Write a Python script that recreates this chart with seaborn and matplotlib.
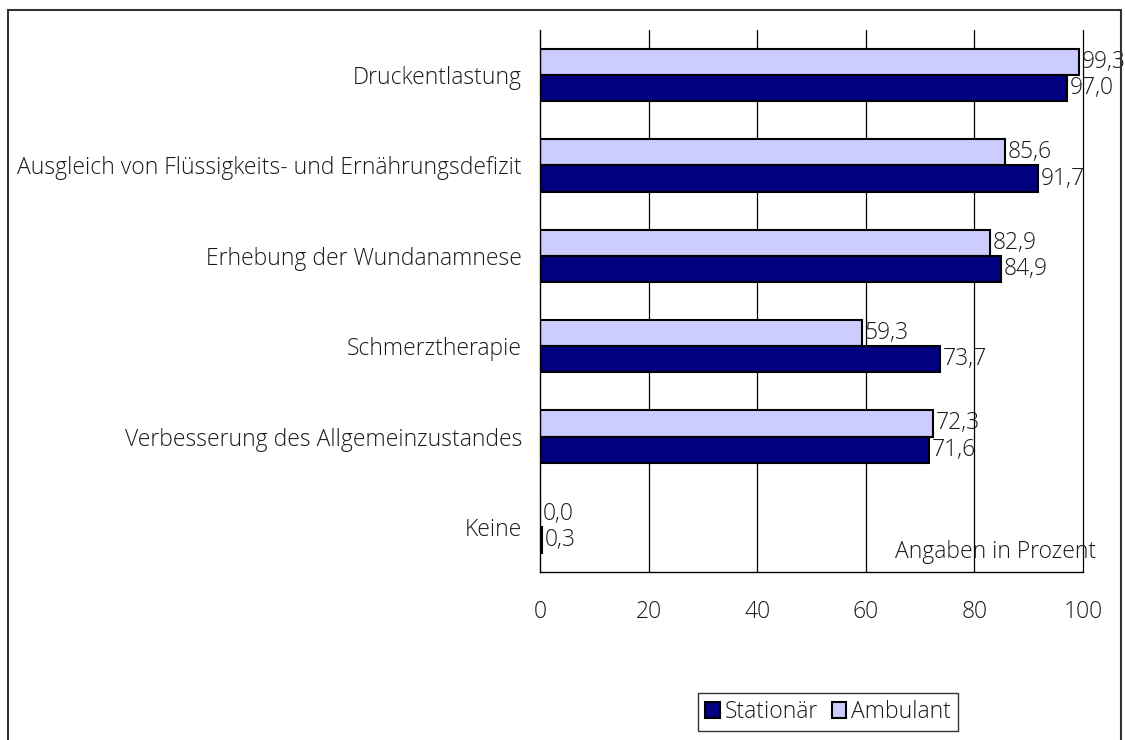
import pandas as pd
import seaborn as sns
import matplotlib.pyplot as plt
from matplotlib.patches import Patch, Rectangle

categories = [
    "Druckentlastung",
    "Ausgleich von Flüssigkeits- und Ernährungsdefizit",
    "Erhebung der Wundanamnese",
    "Schmerztherapie",
    "Verbesserung des Allgemeinzustandes",
    "Keine",
]
stationaer = [97.0, 91.7, 84.9, 73.7, 71.6, 0.3]
ambulant = [99.3, 85.6, 82.9, 59.3, 72.3, 0.0]
x_ticks = [0, 20, 40, 60, 80, 100]

colors = {"Stationär": "#000080", "Ambulant": "#CCCCFF"}
fs = 16.5
txt_col = "#1a1a1a"

sns.set_style("white")
plt.rcParams["font.family"] = ["Open Sans", "DejaVu Sans"]
plt.rcParams["font.weight"] = "light"

df = pd.DataFrame({
    "Kategorie": categories * 2,
    "Wert": ambulant + stationaer,
    "Gruppe": ["Ambulant"] * len(categories) + ["Stationär"] * len(categories),
})

fig = plt.figure(figsize=(11.25, 7.4), dpi=100)
ax = fig.add_axes([0.48, 0.227, 0.4827, 0.7325])

sns.barplot(data=df, y="Kategorie", x="Wert", hue="Gruppe",
            hue_order=["Ambulant", "Stationär"], palette=colors, saturation=1,
            orient="h", width=0.58, edgecolor="black", linewidth=1.5,
            legend=False, ax=ax)

for cont in ax.containers:
    ax.bar_label(cont, labels=[f"{v:.1f}".replace(".", ",") for v in cont.datavalues],
                 padding=2, fontsize=fs, color=txt_col)

ax.set_xlim(0, 100)
ax.set_ylim(len(categories) - 0.5, -0.5)
ax.set_xticks(x_ticks)
ax.set_xticklabels([str(t) for t in x_ticks], fontsize=fs, color=txt_col)
ax.tick_params(axis="x", length=6, width=1, color="black", pad=14, direction="out")
ax.tick_params(axis="y", which="major", length=0, pad=13, labelsize=fs,
               labelcolor=txt_col)
ax.set_yticks([i - 0.5 for i in range(len(categories) + 1)], minor=True)
ax.tick_params(axis="y", which="minor", length=6, width=1, color="black", direction="out")
ax.set_xlabel("")
ax.set_ylabel("")

for t in x_ticks[1:]:
    ax.axvline(t, color="black", linewidth=0.9, zorder=0, clip_on=False)

for side in ["top", "right"]:
    ax.spines[side].set_visible(False)
for side in ["left", "bottom"]:
    ax.spines[side].set_color("black")
    ax.spines[side].set_linewidth(1)

ax.text(102.5, 5.28, "Angaben in Prozent", ha="right", va="center", fontsize=fs,
        color=txt_col)

handles = [Patch(facecolor=colors["Stationär"], edgecolor="black", linewidth=1.5),
           Patch(facecolor=colors["Ambulant"], edgecolor="black", linewidth=1.5)]
leg = fig.legend(handles, ["Stationär", "Ambulant"], loc="center",
                 bbox_to_anchor=(828 / 1125, 1 - 712 / 740), ncol=2, fontsize=fs,
                 frameon=True, fancybox=False, edgecolor="black", handlelength=0.65,
                 handleheight=0.65, handletextpad=0.2, columnspacing=0.6,
                 borderpad=0.3)
leg.get_frame().set_linewidth(1)
for t in leg.get_texts():
    t.set_color(txt_col)

fig.patches.append(Rectangle((8 / 1125, -0.05), 1121 / 1125 - 8 / 1125, 1 - 10 / 740 + 0.05,
                             transform=fig.transFigure, fill=False,
                             edgecolor="#333333", linewidth=1.5))

fig.savefig("out.png", dpi=100)
